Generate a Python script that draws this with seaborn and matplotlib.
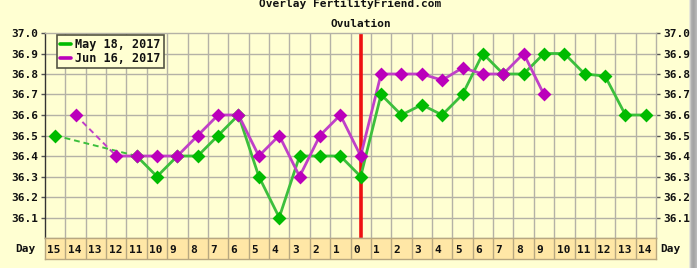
import numpy as np
import pandas as pd
import matplotlib
matplotlib.use("Agg")
import matplotlib.pyplot as plt
import seaborn as sns
from matplotlib.patches import Rectangle
from matplotlib.lines import Line2D

sns.set_theme(style="white")
plt.rcParams['font.family'] = ['DejaVu Sans Mono', 'DejaVu Sans']

# ---------------- data ----------------
day_labels = ["15", "14", "13", "12", "11", "10", "9", "8", "7", "6", "5", "4", "3", "2", "1",
              "0", "1", "2", "3", "4", "5", "6", "7", "8", "9", "10", "11", "12", "13", "14"]
nan = np.nan
may18 = [36.5, nan, nan, nan, 36.4, 36.3, 36.4, 36.4, 36.5, 36.6, 36.3, 36.1, 36.4, 36.4, 36.4,
         36.3, 36.7, 36.6, 36.65, 36.6, 36.7, 36.9, 36.8, 36.8, 36.9, 36.9, 36.8, 36.79, 36.6, 36.6]
jun16 = [nan, 36.6, nan, 36.4, 36.4, 36.4, 36.4, 36.5, 36.6, 36.6, 36.4, 36.5, 36.3, 36.5, 36.6,
         36.4, 36.8, 36.8, 36.8, 36.77, 36.83, 36.8, 36.8, 36.9, 36.7, nan, nan, nan, nan, nan]
series_names = ["May 18, 2017", "Jun 16, 2017"]
ovulation_index = 15
y_ticks = [36.1, 36.2, 36.3, 36.4, 36.5, 36.6, 36.7, 36.8, 36.9, 37.0]

# ---------------- style ----------------
BG = "#FFFFD2"
BAND = "#FFE7A6"
GRID = "#B4B2A6"
line_cols = ["#3CBF3C", "#C040C8"]
mark_cols = ["#00BB00", "#BB00BB"]
FS = 8

W, H = 697, 268
fig = plt.figure(figsize=(W / 100, H / 100), dpi=100, facecolor=BG)

L, R = 45, 656
T, B = 33, 238
DB = 259
ax = fig.add_axes([L / W, 1 - B / H, (R - L) / W, (B - T) / H])
axd = fig.add_axes([L / W, 1 - DB / H, (R - L) / W, (DB - B) / H])

ncol = len(day_labels)
x = np.arange(ncol) + 0.5

ax.set_facecolor(BG)
ax.set_xlim(0, ncol)
ax.set_ylim(36.0, 37.0)
for k in range(1, ncol):
    ax.axvline(k, color=GRID, lw=1, zorder=0)
for yv in y_ticks[:-1]:
    ax.axhline(yv, color=GRID, lw=1, zorder=0)

# ovulation line
ax.axvline(x[ovulation_index], color="#EE1111", lw=2.6, zorder=2)

for si, vals in enumerate([may18, jun16]):
    vals = np.array(vals, dtype=float)
    valid = ~np.isnan(vals)
    idx = np.where(valid)[0]
    runs = []
    start = idx[0]
    prev = idx[0]
    for i in idx[1:]:
        if i == prev + 1:
            prev = i
        else:
            runs.append((start, prev))
            sns.lineplot(x=x[[prev, i]], y=vals[[prev, i]], ax=ax, color=line_cols[si],
                         lw=1.4, linestyle=(0, (3, 2)), estimator=None, sort=False, zorder=3)
            start = i
            prev = i
    runs.append((start, prev))
    for a, b in runs:
        if b > a:
            sns.lineplot(x=x[a:b + 1], y=vals[a:b + 1], ax=ax, color=line_cols[si], lw=2.0,
                         estimator=None, sort=False, zorder=3 + si)
    sns.scatterplot(x=x[valid], y=vals[valid], ax=ax, marker="D", s=50, color=mark_cols[si],
                    edgecolor=mark_cols[si], linewidth=0, zorder=5 + si)

ax.set_xticks([])
ax.set_yticks(y_ticks)
ax.set_yticklabels([f"{v:.1f}" for v in y_ticks], fontsize=FS, fontweight="bold", color="#111111")
ax.tick_params(axis="y", which="both", left=True, right=True, labelleft=True, labelright=True,
               length=3, width=1, pad=2, color="#555555", direction="out")
ax.set_xlabel("")
ax.set_ylabel("")
for s in ["top", "right", "bottom"]:
    ax.spines[s].set_color(GRID)
    ax.spines[s].set_linewidth(1)
ax.spines["left"].set_color("#333333")
ax.spines["left"].set_linewidth(1)

# legend
handles = [Line2D([0], [0], color=mark_cols[i], lw=2.6) for i in range(2)]
leg = ax.legend(handles, series_names, loc="upper left", bbox_to_anchor=(12 / (R - L), 1 - 2 / (B - T)),
                frameon=True, fancybox=False, fontsize=8.5, handlelength=0.9, handletextpad=0.4,
                borderpad=0.25, labelspacing=0.1, borderaxespad=0)
leg.get_frame().set_facecolor(BG)
leg.get_frame().set_edgecolor("#555544")
leg.get_frame().set_linewidth(1.2)
leg.get_frame().set_alpha(1)
for t in leg.get_texts():
    t.set_fontweight("bold")
    t.set_color("#111111")

# day band
axd.set_facecolor(BAND)
axd.set_xlim(0, ncol)
axd.set_ylim(0, 1)
for k in range(1, ncol):
    axd.axvline(k, color="#B8A880", lw=1)
for i, lab in enumerate(day_labels):
    axd.text(i + 0.12, 0.45, lab, ha="left", va="center", fontsize=FS, fontweight="bold", color="#111111")
axd.set_xticks([])
axd.set_yticks([])
for s in axd.spines.values():
    s.set_color("#B8A880")
    s.set_linewidth(1)

fig.text(15 / W, 1 - 249 / H, "Day", ha="left", va="center", fontsize=FS, fontweight="bold", color="#111111")
fig.text(660 / W, 1 - 249 / H, "Day", ha="left", va="center", fontsize=FS, fontweight="bold", color="#111111")

# titles
fig.text(350 / W, 1 - 7 / H, "Overlay FertilityFriend.com", ha="center", va="baseline",
         fontsize=FS, fontweight="bold", color="#111111")
fig.text((L + (R - L) * x[ovulation_index] / ncol) / W, 1 - 27 / H, "Ovulation", ha="center",
         va="baseline", fontsize=FS, fontweight="bold", color="#111111")

# right shadow
shades = ["#E8E8D8", "#C8C8C4", "#B0B0B0", "#A8A8A8", "#A4A4A4", "#A8A8A8", "#B0B0B0", "#B8B8B8"]
for j, c in enumerate(shades):
    fig.patches.append(Rectangle(((689 + j) / W, 0), 1 / W, 1, transform=fig.transFigure,
                                 facecolor=c, edgecolor="none", zorder=-1))

fig.savefig("out.png", dpi=100, facecolor=BG)
